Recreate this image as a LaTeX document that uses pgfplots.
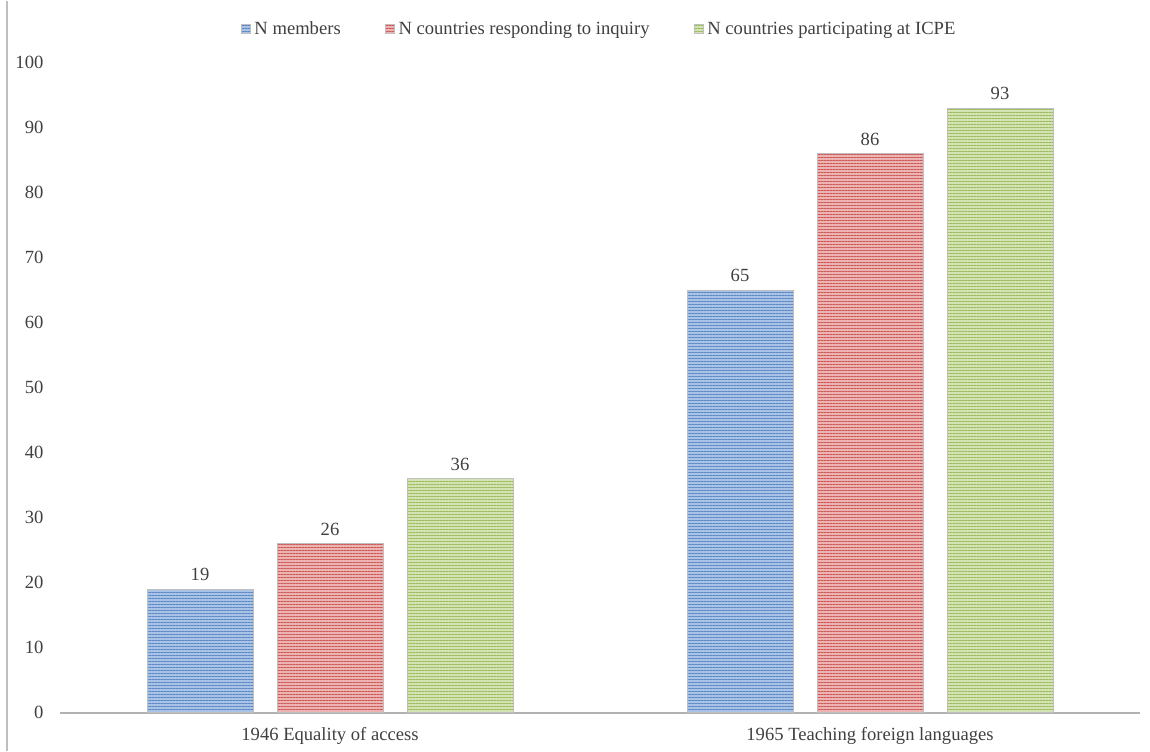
\documentclass[border=0pt]{standalone}
\usepackage{pgfplots}
\pgfplotsset{compat=1.18}
\usepackage{fontspec}
\setmainfont{Liberation Serif}
\usetikzlibrary{patterns.meta}
\definecolor{bA}{HTML}{A9C3E6}
\definecolor{bB}{HTML}{5B87C5}
\definecolor{rA}{HTML}{EDB3B2}
\definecolor{rB}{HTML}{CC5B58}
\definecolor{gA}{HTML}{D3E3B4}
\definecolor{gB}{HTML}{9DBD5C}
\definecolor{txt}{HTML}{404040}
\begin{document}
\fontsize{9.3}{11}\selectfont
\begin{tikzpicture}
\begin{axis}[
  name=ax,
  scale only axis,
  width=540pt, height=325pt,
  ybar=12pt, bar width=53pt,
  xmin=-0.5, xmax=1.5,
  ymin=0, ymax=100,
  xtick={0,1},
  xticklabels={1946 Equality of access,1965 Teaching foreign languages},
  ytick={0,10,...,100},
  major tick length=0pt,
  axis x line*=bottom,
  axis y line*=left,
  y axis line style={draw=none},
  x axis line style={draw=gray!60, line width=1pt},
  /pgf/number format/assume math mode=true,
  tick label style={font=\fontsize{9.3}{11}\selectfont, text=txt},
  yticklabel style={xshift=-5pt},
  xticklabel style={yshift=-4pt},
  nodes near coords,
  every node near coord/.append style={font=\fontsize{9.3}{11}\selectfont, text=txt, yshift=1pt},
  legend columns=3,
  legend style={draw=none, at={(0.5,1)}, anchor=south, yshift=8.5pt,
    font=\fontsize{9.3}{11}\selectfont, text=txt,
    /tikz/every even column/.append style={column sep=20pt}},
  legend image code/.code={\draw[#1] (0pt,-2pt) rectangle (4.5pt,2.5pt);},
  legend cell align=left,
  clip=false,
]
\addplot[draw=gray!50, fill=bA, postaction={pattern={Lines[angle=0,distance=1.5pt,line width=0.7pt]},pattern color=bB}] coordinates {(0,19) (1,65)};
\addplot[draw=gray!50, fill=rA, postaction={pattern={Lines[angle=0,distance=1.5pt,line width=0.7pt]},pattern color=rB}] coordinates {(0,26) (1,86)};
\addplot[draw=gray!50, fill=gA, postaction={pattern={Lines[angle=0,distance=1.5pt,line width=0.7pt]},pattern color=gB}] coordinates {(0,36) (1,93)};
\legend{N members, N countries responding to inquiry, N countries participating at ICPE}
\coordinate (o) at (rel axis cs:0,0);
\coordinate (t) at (rel axis cs:1,1);
\end{axis}
\pgfresetboundingbox
\path ([shift={(-30pt,-19pt)}]o) rectangle ([shift={(5pt,31pt)}]t);
\draw[gray!50, line width=0.8pt] ([shift={(-26.5pt,-19pt)}]o) -- ([shift={(-26.5pt,31pt)}]o |- t);
\end{tikzpicture}
\end{document}
